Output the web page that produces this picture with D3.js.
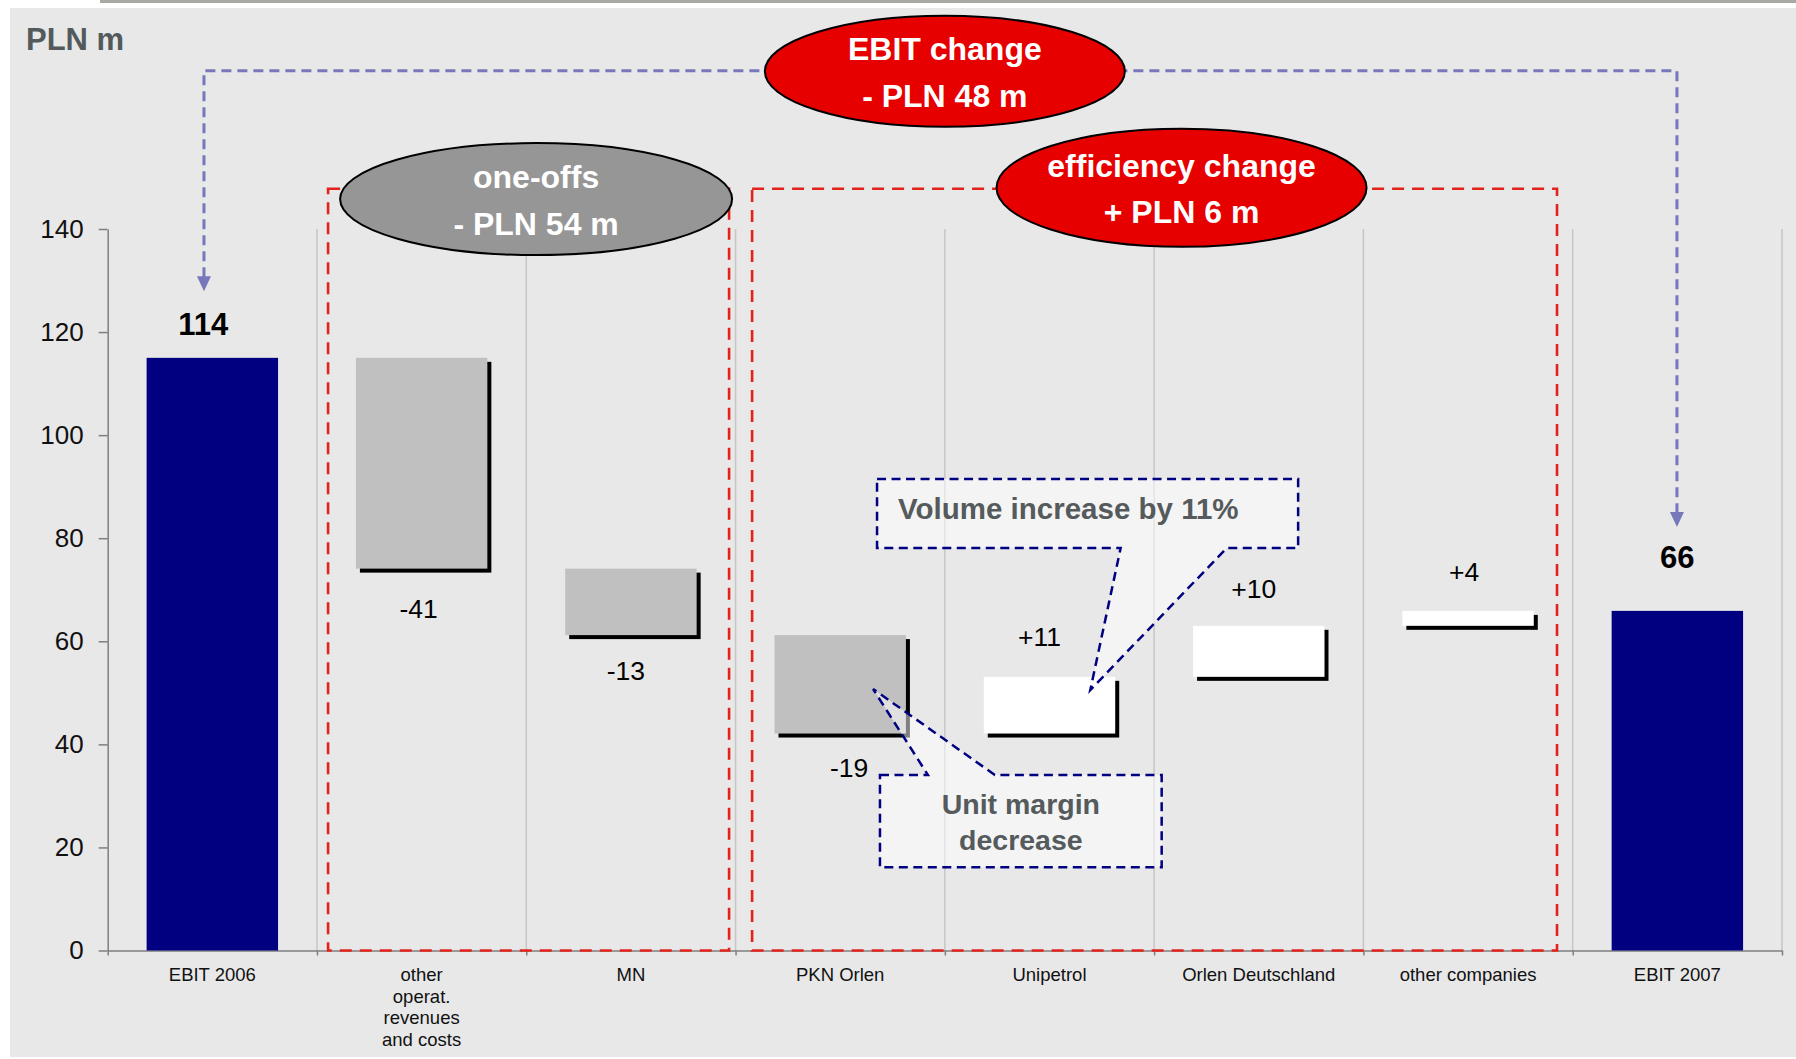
<!DOCTYPE html>
<html><head><meta charset="utf-8">
<script src="https://cdn.jsdelivr.net/npm/d3@7"></script>
<style>
html,body{margin:0;padding:0;background:#fff;}
svg{display:block;font-family:Arial,"Liberation Sans",sans-serif;}
</style>
</head><body>
<svg id="chart" width="1796" height="1059"></svg>
<script>
// ---------------- data ----------------
const categories = ["EBIT 2006", "other operat. revenues and costs", "MN", "PKN Orlen",
  "Unipetrol", "Orlen Deutschland", "other companies", "EBIT 2007"];
const categoryLines = [["EBIT 2006"], ["other", "operat.", "revenues", "and costs"], ["MN"],
  ["PKN Orlen"], ["Unipetrol"], ["Orlen Deutschland"], ["other companies"], ["EBIT 2007"]];
const barKinds = ["total", "delta", "delta", "delta", "delta", "delta", "delta", "total"];
const values = [115.0, -40.9, -12.9, -19.1, 11.0, 9.9, 2.9, 65.9];
const valueLabels = ["114", "-41", "-13", "-19", "+11", "+10", "+4", "66"];
const yTicks = [0, 20, 40, 60, 80, 100, 120, 140];
const unitLabel = "PLN m";
const ebitChangeText = ["EBIT change", "- PLN 48 m"];
const oneOffsText = ["one-offs", "- PLN 54 m"];
const efficiencyText = ["efficiency change", "+ PLN 6 m"];
const volumeNote = "Volume increase by 11%";
const marginNote = ["Unit margin", "decrease"];

// ---------------- layout ----------------
const W = 1796, H = 1059;
const plot = {left: 107.7, right: 1782, top: 229, bottom: 950.5};
const labelOffsets = [[-9, -23], [-3, 49], [-5, 45], [9, 43.5], [-10, -31], [-5, -28], [-4, -30], [0, -43]];

const svg = d3.select("#chart");

// background
svg.append("rect").attr("x", 10).attr("y", 8).attr("width", W - 10).attr("height", H - 10)
  .attr("fill", "#e8e8e8");
svg.append("rect").attr("x", 100).attr("y", 0).attr("width", W - 100).attr("height", 3)
  .attr("fill", "#a9a9a4");

const x = d3.scaleBand().domain(categories).range([plot.left, plot.right]).padding(0);
const xb = d3.scaleLinear().domain([0, categories.length]).range([plot.left, plot.right]);
const y = d3.scaleLinear().domain([0, 140]).range([plot.bottom, plot.top]);
const bw = x.bandwidth();
const barW = bw * 0.628;

// waterfall computation
let run = 0;
const bars = values.map((v, i) => {
  let a, b;
  if (barKinds[i] === "total") { a = 0; b = v; run = v; }
  else { a = run; b = run + v; run = b; }
  return {cat: categories[i], kind: barKinds[i], v, lo: Math.min(a, b), hi: Math.max(a, b), label: valueLabels[i], i};
});

// gridlines
svg.append("g").selectAll("line").data(d3.range(1, categories.length + 1)).join("line")
  .attr("x1", d => xb(d)).attr("x2", d => xb(d))
  .attr("y1", y(140)).attr("y2", y(0))
  .attr("stroke", "#c6c6c6").attr("stroke-width", 1.5);

// y axis
const yAxis = svg.append("g").attr("transform", `translate(${plot.left},0)`)
  .call(d3.axisLeft(y).tickValues(yTicks).tickSize(9).tickSizeOuter(0).tickPadding(15));
yAxis.select(".domain").attr("stroke", "#7f7f7f").attr("stroke-width", 1.5);
yAxis.selectAll(".tick line").attr("stroke", "#7f7f7f").attr("stroke-width", 1.5);
yAxis.selectAll(".tick text").attr("font-size", 26).attr("fill", "#111")
  .attr("font-family", "Arial, 'Liberation Sans', sans-serif");

// x axis (ticks at category boundaries)
const xAxis = svg.append("g").attr("transform", `translate(0,${plot.bottom})`)
  .call(d3.axisBottom(xb).tickValues(d3.range(0, categories.length + 1)).tickSize(5)
    .tickSizeOuter(0).tickFormat(""));
xAxis.select(".domain").attr("stroke", "#7f7f7f").attr("stroke-width", 1.5);
xAxis.selectAll(".tick line").attr("stroke", "#7f7f7f").attr("stroke-width", 1.5);

// category labels
const catG = svg.append("g");
categoryLines.forEach((lines, i) => {
  const t = catG.append("text").attr("x", x(categories[i]) + bw / 2).attr("y", 981)
    .attr("text-anchor", "middle").attr("font-size", 18.5).attr("fill", "#111");
  lines.forEach((l, k) => t.append("tspan").attr("x", x(categories[i]) + bw / 2)
    .attr("dy", k === 0 ? 0 : 21.5).text(l));
});

// shadows + bars
const barG = svg.append("g");
barG.selectAll("rect.shadow").data(bars.filter(d => d.kind === "delta")).join("rect")
  .attr("class", "shadow")
  .attr("x", d => x(d.cat) + (bw - barW) / 2 + 4)
  .attr("y", d => y(d.hi) + 4)
  .attr("width", barW).attr("height", d => y(d.lo) - y(d.hi))
  .attr("fill", "#000");
barG.selectAll("rect.bar").data(bars).join("rect")
  .attr("class", "bar")
  .attr("x", d => x(d.cat) + (bw - barW) / 2)
  .attr("y", d => y(d.hi))
  .attr("width", barW).attr("height", d => y(d.lo) - y(d.hi))
  .attr("fill", d => d.kind === "total" ? "#000080" : (d.v < 0 ? "#c0c0c0" : "#ffffff"));

// helpers in chart units
const X = u => xb(u);
const Y = v => y(v);

// red dashed group boxes
const redBoxes = [[1.053, 2.969], [3.079, 6.925]];
svg.append("g").selectAll("rect").data(redBoxes).join("rect")
  .attr("x", d => X(d[0])).attr("y", Y(147.8))
  .attr("width", d => X(d[1]) - X(d[0])).attr("height", Y(0) - Y(147.8))
  .attr("fill", "none").attr("stroke", "#e3231b").attr("stroke-width", 2.6)
  .attr("stroke-dasharray", "12,8");

// callouts
const callG = svg.append("g");
const volPath = d3.path();
volPath.moveTo(X(3.676), Y(91.5)); volPath.lineTo(X(5.688), Y(91.5));
volPath.lineTo(X(5.688), Y(78.1)); volPath.lineTo(X(5.347), Y(78.1));
volPath.lineTo(X(4.695), Y(50.55)); volPath.lineTo(X(4.840), Y(78.1));
volPath.lineTo(X(3.676), Y(78.1)); volPath.closePath();
const marPath = d3.path();
marPath.moveTo(X(3.690), Y(34.06)); marPath.lineTo(X(3.919), Y(34.06));
marPath.lineTo(X(3.657), Y(50.74)); marPath.lineTo(X(4.239), Y(34.06));
marPath.lineTo(X(5.036), Y(34.06)); marPath.lineTo(X(5.036), Y(16.14));
marPath.lineTo(X(3.690), Y(16.14)); marPath.closePath();
[volPath, marPath].forEach(p => callG.append("path").attr("d", p.toString())
  .attr("fill", "#ffffff").attr("fill-opacity", 0.5)
  .attr("stroke", "#000080").attr("stroke-width", 2.5).attr("stroke-dasharray", "9,5.5"));
callG.append("text").attr("x", X(3.676) + 21).attr("y", Y(91.5) + 40.5)
  .attr("font-size", 29.5).attr("font-weight", "bold").attr("fill", "#555a5c").text(volumeNote);
const mt = callG.append("text").attr("text-anchor", "middle")
  .attr("font-size", 28.5).attr("font-weight", "bold").attr("fill", "#555a5c");
marginNote.forEach((l, k) => mt.append("tspan").attr("x", (X(3.690) + X(5.036)) / 2)
  .attr("y", Y(34.06) + 39 + k * 36.5).text(l));

// blue dashed arrows
const arrowG = svg.append("g");
const blue = "#7777bb";
const lineY = Y(170.7);
const arrowL = {x: X(0.46), tip: Y(127.9)};
const arrowR = {x: X(7.498), tip: Y(82.2)};
arrowG.append("path")
  .attr("d", `M${arrowL.x},${arrowL.tip - 14} V${lineY} H${arrowR.x} V${arrowR.tip - 14}`)
  .attr("fill", "none").attr("stroke", blue).attr("stroke-width", 3).attr("stroke-dasharray", "10,6");
[arrowL, arrowR].forEach(a => arrowG.append("path")
  .attr("d", `M${a.x - 7},${a.tip - 15} L${a.x + 7},${a.tip - 15} L${a.x},${a.tip} Z`)
  .attr("fill", blue));

// ellipses
const ellipses = [
  {cx: X(4.0), cy: Y(170.6), rx: 180, ry: 55.5, fill: "#e60000", text: ebitChangeText},
  {cx: X(2.047), cy: Y(145.8), rx: 196, ry: 56, fill: "#969696", text: oneOffsText},
  {cx: X(5.131), cy: Y(148.0), rx: 185, ry: 59, fill: "#e60000", text: efficiencyText}
];
ellipses.forEach(e => {
  svg.append("ellipse").attr("cx", e.cx).attr("cy", e.cy).attr("rx", e.rx).attr("ry", e.ry)
    .attr("fill", e.fill).attr("stroke", "#000").attr("stroke-width", 2);
  e.text.forEach((l, k) => svg.append("text").attr("x", e.cx).attr("y", e.cy - 11 + k * 46.5)
    .attr("text-anchor", "middle").attr("font-size", 32).attr("font-weight", "bold")
    .attr("fill", "#fff").text(l));
});

// value labels
svg.append("g").selectAll("text").data(bars).join("text")
  .attr("x", d => x(d.cat) + bw / 2 + labelOffsets[d.i][0])
  .attr("y", d => (labelOffsets[d.i][1] < 0 ? y(d.hi) : y(d.lo)) + labelOffsets[d.i][1])
  .attr("text-anchor", "middle")
  .attr("font-size", d => d.kind === "total" ? 31 : 26.5)
  .attr("font-weight", d => d.kind === "total" ? "bold" : "normal")
  .attr("fill", "#000").text(d => d.label);

// unit label
svg.append("text").attr("x", 26).attr("y", 50).attr("font-size", 31).attr("font-weight", "bold")
  .attr("fill", "#545a5c").text(unitLabel);
</script>
</body></html>
